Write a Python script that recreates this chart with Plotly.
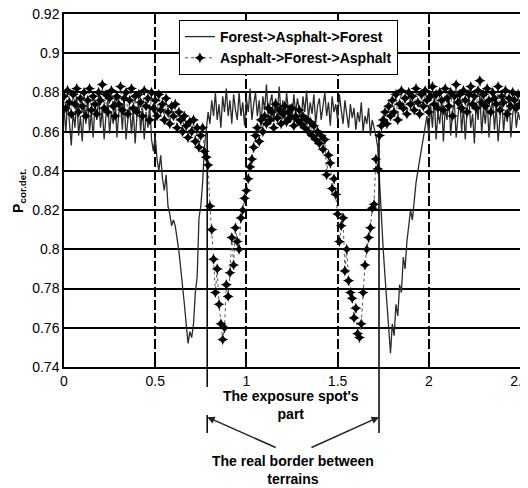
import plotly.graph_objects as go

# sample positions (x, step 0.01 from 0 to 2.5)
x_vals = [round(i * 0.01, 2) for i in range(251)]

forest_asphalt_forest = [
    0.872, 0.860, 0.876, 0.866, 0.853, 0.870, 0.862, 0.878, 0.858, 0.868,
    0.855, 0.873, 0.864, 0.877, 0.860, 0.870, 0.857, 0.874, 0.866, 0.879,
    0.862, 0.872, 0.856, 0.868, 0.876, 0.859, 0.870, 0.864, 0.878, 0.857,
    0.869, 0.874, 0.861, 0.877, 0.856, 0.866, 0.873, 0.859, 0.871, 0.854,
    0.868, 0.876, 0.860, 0.872, 0.856, 0.870, 0.862, 0.874, 0.856, 0.850,
    0.858, 0.846, 0.840, 0.848, 0.836, 0.830, 0.838, 0.822, 0.818, 0.812,
    0.815, 0.812, 0.806, 0.799, 0.790, 0.782, 0.772, 0.762, 0.752, 0.758,
    0.755, 0.762, 0.778, 0.786, 0.816, 0.822, 0.834, 0.852, 0.862, 0.870,
    0.864, 0.876, 0.868, 0.880, 0.866, 0.874, 0.862, 0.878, 0.870, 0.882,
    0.868, 0.876, 0.864, 0.879, 0.871, 0.866, 0.880, 0.868, 0.875, 0.863,
    0.877, 0.870, 0.882, 0.866, 0.874, 0.880, 0.868, 0.876, 0.863, 0.878,
    0.871, 0.884, 0.867, 0.875, 0.879, 0.865, 0.877, 0.870, 0.883, 0.868,
    0.876, 0.864, 0.880, 0.871, 0.874, 0.866, 0.879, 0.869, 0.877, 0.872,
    0.865, 0.878, 0.870, 0.881, 0.867, 0.875, 0.869, 0.879, 0.864, 0.873,
    0.877, 0.866, 0.872, 0.880, 0.868, 0.875, 0.863, 0.878, 0.870, 0.874,
    0.866, 0.879, 0.871, 0.864, 0.876, 0.869, 0.862, 0.874, 0.867, 0.872,
    0.861, 0.870, 0.865, 0.875, 0.860, 0.868, 0.864, 0.872, 0.858, 0.866,
    0.862, 0.858, 0.852, 0.832, 0.818, 0.800, 0.786, 0.775, 0.760, 0.747,
    0.762, 0.756, 0.772, 0.766, 0.782, 0.778, 0.796, 0.790, 0.804, 0.812,
    0.820, 0.815, 0.826, 0.834, 0.840, 0.846, 0.852, 0.858, 0.862, 0.868,
    0.858, 0.874, 0.862, 0.878, 0.856, 0.870, 0.864, 0.876, 0.855, 0.872,
    0.866, 0.879, 0.858, 0.870, 0.875, 0.857, 0.868, 0.877, 0.860, 0.873,
    0.856, 0.871, 0.878, 0.862, 0.869, 0.854, 0.875, 0.866, 0.879, 0.859,
    0.872, 0.864, 0.877, 0.857, 0.870, 0.876, 0.861, 0.873, 0.855, 0.868,
    0.878, 0.860, 0.871, 0.865, 0.876, 0.857, 0.869, 0.874, 0.862, 0.870,
    0.866,
]

asphalt_forest_asphalt = [
    0.878, 0.872, 0.881, 0.875, 0.869, 0.879, 0.874, 0.882, 0.870, 0.877,
    0.873, 0.880, 0.868, 0.876, 0.882, 0.871, 0.878, 0.874, 0.869, 0.880,
    0.876, 0.884, 0.872, 0.879, 0.870, 0.877, 0.881, 0.873, 0.868, 0.878,
    0.874, 0.883, 0.871, 0.877, 0.880, 0.869, 0.876, 0.882, 0.872, 0.878,
    0.870, 0.879, 0.875, 0.868, 0.881, 0.873, 0.877, 0.866, 0.880, 0.872,
    0.876, 0.868, 0.879, 0.871, 0.874, 0.866, 0.877, 0.870, 0.864, 0.873,
    0.868, 0.874, 0.862, 0.870, 0.866, 0.860, 0.868, 0.863, 0.857, 0.865,
    0.860, 0.866, 0.855, 0.862, 0.852, 0.858, 0.862, 0.850, 0.847, 0.843,
    0.822, 0.810, 0.795, 0.778, 0.790, 0.772, 0.762, 0.754, 0.760, 0.782,
    0.776, 0.788, 0.806, 0.792, 0.811, 0.804, 0.800, 0.816, 0.820, 0.826,
    0.830, 0.836, 0.842, 0.846, 0.852, 0.858, 0.862, 0.855, 0.866, 0.860,
    0.868, 0.864, 0.872, 0.866, 0.870, 0.862, 0.874, 0.867, 0.871, 0.864,
    0.869, 0.873, 0.865, 0.870, 0.867, 0.872, 0.863, 0.868, 0.866, 0.871,
    0.864, 0.868, 0.862, 0.866, 0.860, 0.865, 0.858, 0.863, 0.856, 0.860,
    0.854, 0.858, 0.851, 0.856, 0.838, 0.848, 0.844, 0.831, 0.836, 0.828,
    0.818, 0.804, 0.812, 0.816, 0.789, 0.800, 0.784, 0.778, 0.775, 0.765,
    0.770, 0.757, 0.755, 0.762, 0.778, 0.792, 0.800, 0.806, 0.811, 0.821,
    0.823, 0.846, 0.841, 0.858, 0.863, 0.866, 0.870, 0.864, 0.873, 0.868,
    0.876, 0.870, 0.879, 0.866, 0.874, 0.881, 0.872, 0.877, 0.869, 0.880,
    0.874, 0.878, 0.871, 0.882, 0.875, 0.869, 0.879, 0.873, 0.881, 0.876,
    0.870, 0.878, 0.883, 0.874, 0.879, 0.872, 0.880, 0.876, 0.871, 0.882,
    0.877, 0.873, 0.880, 0.868, 0.878, 0.884, 0.875, 0.879, 0.872, 0.881,
    0.876, 0.870, 0.879, 0.883, 0.874, 0.878, 0.872, 0.881, 0.886, 0.875,
    0.879, 0.873, 0.882, 0.876, 0.870, 0.880, 0.877, 0.874, 0.883, 0.871,
    0.878, 0.875, 0.881, 0.869, 0.877, 0.873, 0.880, 0.876, 0.872, 0.879,
    0.874,
]

y_tickvals = [0.74, 0.76, 0.78, 0.80, 0.82, 0.84, 0.86, 0.88, 0.90, 0.92]
y_ticktext = ["0.74", "0.76", "0.78", "0.8", "0.82", "0.84", "0.86", "0.88", "0.9", "0.92"]
x_tickvals = [0, 0.5, 1, 1.5, 2, 2.5]
x_ticktext = ["0", "0.5", "1", "1.5", "2", "2.5"]

border_left = 0.785
border_right = 1.727

FONT = "Liberation Sans, Arial, sans-serif"

fig = go.Figure()
fig.add_trace(go.Scatter(
    x=x_vals, y=forest_asphalt_forest, mode="lines",
    name="Forest->Asphalt->Forest",
    line=dict(color="#2a2a2a", width=1.3),
))
fig.add_trace(go.Scatter(
    x=x_vals, y=asphalt_forest_asphalt, mode="lines+markers",
    name="Asphalt->Forest->Asphalt",
    line=dict(color="#555555", width=1, dash="dot"),
    marker=dict(symbol="star-diamond", size=8, color="black",
                line=dict(width=0)),
))

# vertical border lines
shapes = [
    dict(type="line", xref="x", yref="paper", x0=border_left, x1=border_left,
         y0=0.667, y1=-0.057, line=dict(color="black", width=1.5)),
    dict(type="line", xref="x", yref="paper", x0=border_left, x1=border_left,
         y0=-0.136, y1=-0.187, line=dict(color="black", width=1.5)),
    dict(type="line", xref="x", yref="paper", x0=border_right, x1=border_right,
         y0=0.667, y1=-0.187, line=dict(color="black", width=1.5)),
]

annotations = [
    dict(text="<b>P<sub>cor.det.</sub></b>", xref="paper", yref="paper", x=-0.1, y=0.5,
         textangle=-90, showarrow=False, font=dict(family=FONT, size=14, color="black"),
         xanchor="center", yanchor="middle"),
    dict(text="<b>The exposure spot's<br>part</b>", xref="x", yref="paper", x=1.245, y=-0.109,
         showarrow=False, font=dict(family=FONT, size=14, color="black"),
         xanchor="center", yanchor="middle"),
    dict(text="<b>The real border between<br>terrains</b>", xref="x", yref="paper", x=1.258, y=-0.292,
         showarrow=False, font=dict(family=FONT, size=14, color="black"),
         xanchor="center", yanchor="middle"),
    dict(text="", xref="x", yref="paper", x=border_left, y=-0.142, ax=70, ay=31,
         axref="pixel", ayref="pixel", showarrow=True, arrowhead=2, arrowsize=1,
         arrowwidth=1.5, arrowcolor="#222"),
    dict(text="", xref="x", yref="paper", x=border_right, y=-0.142, ax=-69, ay=31,
         axref="pixel", ayref="pixel", showarrow=True, arrowhead=2, arrowsize=1,
         arrowwidth=1.5, arrowcolor="#222"),
]

fig.update_layout(
    width=520, height=480,
    margin=dict(l=56, r=8, t=6, b=121, pad=0, autoexpand=False),
    paper_bgcolor="white", plot_bgcolor="white",
    font=dict(family=FONT, size=14, color="black"),
    showlegend=True,
    legend=dict(x=0.252, y=0.983, xanchor="left", yanchor="top",
                bgcolor="white", bordercolor="black", borderwidth=1,
                font=dict(family=FONT, size=14, color="black", weight="bold"),
                tracegroupgap=0, itemwidth=30),
    shapes=shapes, annotations=annotations,
    hovermode=False,
)
fig.update_xaxes(
    range=[0, 2.5], tickvals=x_tickvals, ticktext=x_ticktext,
    showgrid=True, gridcolor="black", gridwidth=1.5, griddash="10px,3px",
    showline=True, linecolor="black", linewidth=1.5, mirror="allticks",
    ticks="inside", ticklen=8, tickwidth=1.5, tickcolor="black",
    zeroline=False, ticklabeloverflow="allow", automargin=False,
    tickfont=dict(family=FONT, size=14, color="black"),
)
fig.update_yaxes(
    range=[0.74, 0.92], tickvals=y_tickvals, ticktext=y_ticktext,
    showgrid=True, gridcolor="black", gridwidth=1.5,
    showline=True, linecolor="black", linewidth=1.5, mirror="allticks",
    ticks="inside", ticklen=8, tickwidth=1.5, tickcolor="black",
    zeroline=False, ticklabeloverflow="allow", automargin=False,
    tickfont=dict(family=FONT, size=14, color="black"),
)

fig.write_html("out.html")
